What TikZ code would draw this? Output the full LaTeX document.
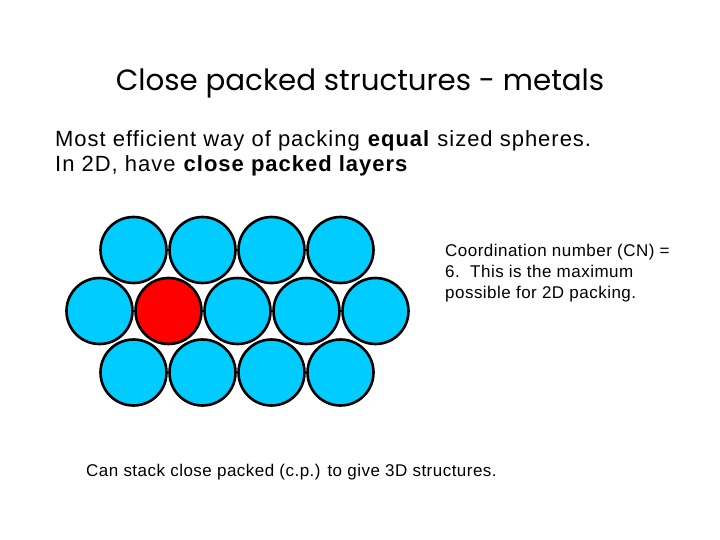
\documentclass[tikz,border=0pt]{standalone}
\usepackage{fontspec}
\setmainfont{Liberation Sans}
\newfontfamily\titlefont{Poppins}
\newfontfamily\bodyfont[LetterSpace=4.5]{Liberation Sans}
\newfontfamily\smallfont[LetterSpace=2.8]{Liberation Sans}
\definecolor{atomblue}{HTML}{00CCFF}
\definecolor{atomred}{HTML}{FF0000}
\begin{document}
\begin{tikzpicture}[x=1pt,y=-1pt,
  atom/.style={circle,draw=black,line width=2.6pt,fill=atomblue,minimum size=66pt,inner sep=0pt},
  redatom/.style={atom,fill=atomred},
  txt/.style={anchor=base west,inner sep=0pt},
  bodytxt/.style={txt,font=\bodyfont\fontsize{22}{26}\selectfont},
  smalltxt/.style={txt,font=\smallfont\fontsize{17}{21}\selectfont}]
\useasboundingbox (0,0) rectangle (720,540);
% title
\node[anchor=base,inner sep=0pt,font=\titlefont\fontsize{29.3}{34}\selectfont] (title) at (360,91) {Close packed structures - metals};
% body
\node[bodytxt] (l1) at (55,147) {Most efficient way of packing \textbf{equal} sized spheres.};
\node[bodytxt] (l2) at (55,172) {In 2D, have \textbf{close packed layers}};
% circles row 1
\foreach \i/\x in {1/133.5,2/202.5,3/271.5,4/340.5}
  \node[atom] (a\i) at (\x,250) {};
% row 2
\node[atom] (b1) at (99.5,311) {};
\node[redatom] (b2) at (168.5,311) {};
\foreach \i/\x in {3/237.5,4/306.5,5/375.5}
  \node[atom] (b\i) at (\x,311) {};
% row 3
\foreach \i/\x in {1/133.5,2/202.5,3/271.5,4/340.5}
  \node[atom] (c\i) at (\x,372.5) {};
% right text
\node[smalltxt] (cn1) at (445,256) {Coordination number (CN) =};
\node[smalltxt] (cn2) at (445,277) {6.\ \ This is the maximum};
\node[smalltxt] (cn3) at (445,298) {possible for 2D packing.};
% bottom text
\node[smalltxt] (bottom) at (86,476) {Can stack close packed (c.p.) to give 3D structures.};
\end{tikzpicture}
\end{document}
